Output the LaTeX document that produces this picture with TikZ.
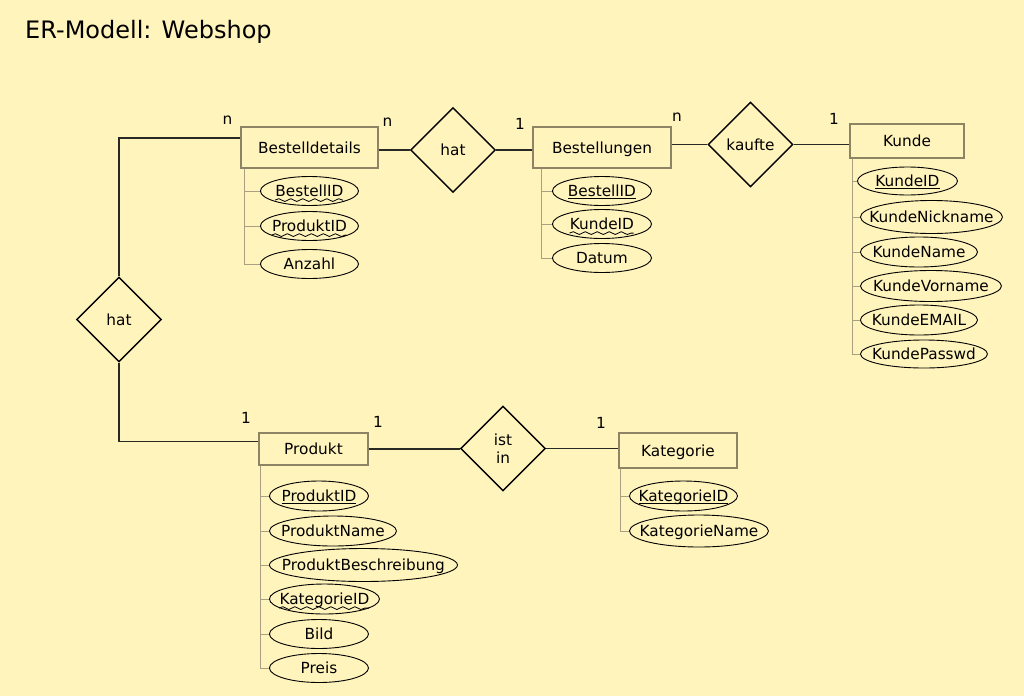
\documentclass[tikz,border=0pt]{standalone}
\usepackage{fontspec}
\setmainfont{DejaVu Sans}
\usetikzlibrary{shapes.geometric,positioning,decorations.pathmorphing}

% key markers: primary key underlined, foreign key wavy
\newlength{\keywd}
\newcommand{\pk}[1]{\settowidth{\keywd}{#1}#1\llap{\rule[-2.8pt]{\keywd}{1.3pt}}}
\newcommand{\fk}[1]{\settowidth{\keywd}{#1}#1\llap{\tikz[baseline=3.5pt]\draw[line width=.8pt,decorate,decoration={snake,amplitude=1.4pt,segment length=12pt}] (0pt,0pt) -- (\keywd,0pt);}}
\newcommand{\att}[1]{\makebox[0pt]{#1}}

\begin{document}
\begin{tikzpicture}[x=1pt,y=-1pt,font=\fontsize{15.3}{18}\selectfont,
  entity/.style={draw=boxgray,line width=1.1pt,inner sep=0pt,text height=11.2pt,text depth=0pt},
  rel/.style={diamond,draw=black,line width=1.4pt,minimum width=85,minimum height=85,inner sep=0pt,align=center},
  attr/.style={ellipse,draw=black,line width=0.9pt,inner sep=0pt,minimum height=29,anchor=west,text height=11.2pt,text depth=0pt},
  link/.style={draw=linegray,line width=1.6pt},
  attlink/.style={draw=attgray,line width=1pt},
  card/.style={inner sep=0pt}]
% Define colors
\definecolor{bgyellow}{RGB}{255,244,188}
\definecolor{boxgray}{RGB}{140,132,100}
\definecolor{attgray}{RGB}{168,160,128}
\definecolor{linegray}{RGB}{40,40,36}

% Background
\fill[bgyellow] (0,0) rectangle (1024,696);
\node[anchor=base west,inner sep=0pt,font=\fontsize{24}{28}\selectfont] (title) at (25,38.5) {ER-Modell: Webshop};

% Entities
\node[entity,minimum width=137,minimum height=41] (bd) at (309.5,147.5) {Bestelldetails};
\node[entity,minimum width=138,minimum height=41] (bs) at (602,147.5) {Bestellungen};
\node[entity,minimum width=114,minimum height=34] (ku) at (907,141) {Kunde};
\node[entity,minimum width=109,minimum height=32] (pr) at (313.5,449) {Produkt};
\node[entity,minimum width=118,minimum height=35] (ka) at (678,450.5) {Kategorie};

% Relationships
\node[rel] (hat1) at (453,150) {hat};
\node[rel] (kf) at (750.5,144.5) {kaufte};
\node[rel] (hat2) at (119,319.5) {hat};
\node[rel] (ist) at (503,448.5) {ist\\in};

\draw[link] (hat1.west) -- (hat1.west -| bd.east);
\draw[link] (hat1.east) -- (hat1.east -| bs.west);
\draw[link] (kf.west) -- (kf.west -| bs.east);
\draw[link] (kf.east) -- (kf.east -| ku.west);
\draw[link] (hat2.north) |- ([yshift=9.5pt]bd.west);
\draw[link] (hat2.south) |- ([yshift=7.5pt]pr.west);
\draw[link] (pr.east) -- (pr.east -| ist.west);
\draw[link] (ist.east) -- (ist.east -| ka.west);

% Cardinalities
\node[card] (c1) at (227.5,120) {n};
\node[card] (c2) at (387.5,122) {n};
\node[card] (c3) at (520,124) {1};
\node[card] (c4) at (677,117.5) {n};
\node[card] (c5) at (834,119) {1};
\node[card] (c6) at (246,417.5) {1};
\node[card] (c7) at (378,422) {1};
\node[card] (c8) at (601,423) {1};

% Attributes: Bestelldetails
\node[attr,minimum width=98] (bd1) at (260,191) {\att{\fk{BestellID}}};
\node[attr,minimum width=98] (bd2) at (260,226) {\att{\fk{ProduktID}}};
\node[attr,minimum width=98] (bd3) at (260,264) {\att{Anzahl}};
\foreach \a in {bd1,bd2,bd3} \draw[attlink] ([xshift=4pt]bd.south west) |- (\a.west);

% Attributes: Bestellungen
\node[attr,minimum width=99] (bs1) at (552,191) {\att{\pk{BestellID}}};
\node[attr,minimum width=99] (bs2) at (552,224) {\att{\fk{KundeID}}};
\node[attr,minimum width=99] (bs3) at (552,258) {\att{Datum}};
\foreach \a in {bs1,bs2,bs3} \draw[attlink] ([xshift=9pt]bs.south west) |- (\a.west);

% Attributes: Kunde
\node[attr,minimum width=100,minimum height=28] (ku1) at (857,181) {\att{\pk{KundeID}}};
\node[attr,minimum width=142,minimum height=33] (ku2) at (860,217) {\att{KundeNickname}};
\node[attr,minimum width=117,minimum height=30] (ku3) at (860,252) {\att{KundeName}};
\node[attr,minimum width=141,minimum height=31] (ku4) at (860,286) {\att{KundeVorname}};
\node[attr,minimum width=117,minimum height=30] (ku5) at (860,320) {\att{KundeEMAIL}};
\node[attr,minimum width=127,minimum height=28] (ku6) at (860,354) {\att{KundePasswd}};
\foreach \a in {ku1,ku2,ku3,ku4,ku5,ku6} \draw[attlink] ([xshift=3pt]ku.south west) |- (\a.west);

% Attributes: Produkt
\node[attr,minimum width=99,minimum height=30] (pr1) at (269,496) {\att{\pk{ProduktID}}};
\node[attr,minimum width=127,minimum height=30] (pr2) at (269,531) {\att{ProduktName}};
\node[attr,minimum width=188,minimum height=33] (pr3) at (269,565) {\att{ProduktBeschreibung}};
\node[attr,minimum width=110,minimum height=30] (pr4) at (269,599) {\att{\fk{KategorieID}}};
\node[attr,minimum width=99] (pr5) at (269,634) {\att{Bild}};
\node[attr,minimum width=99] (pr6) at (269,668) {\att{Preis}};
\foreach \a in {pr1,pr2,pr3,pr4,pr5,pr6} \draw[attlink] ([xshift=2pt]pr.south west) |- (\a.west);

% Attributes: Kategorie
\node[attr,minimum width=108,minimum height=30] (ka1) at (629,496) {\att{\pk{KategorieID}}};
\node[attr,minimum width=139,minimum height=32] (ka2) at (629,531) {\att{KategorieName}};
\foreach \a in {ka1,ka2} \draw[attlink] ([xshift=2pt]ka.south west) |- (\a.west);
\end{tikzpicture}
\end{document}
